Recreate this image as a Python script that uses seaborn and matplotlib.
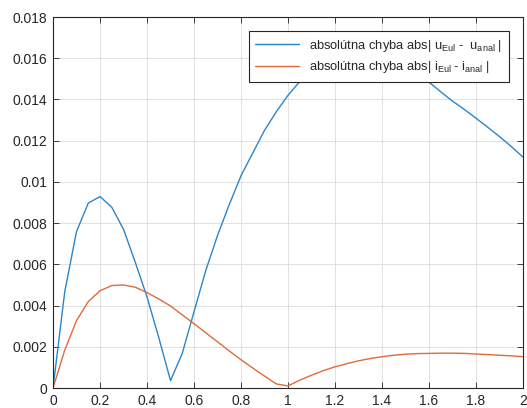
import numpy as np
import pandas as pd
import matplotlib
matplotlib.use("Agg")
import matplotlib.pyplot as plt
from matplotlib.ticker import FuncFormatter, MultipleLocator
import seaborn as sns

# time grid (Euler step 0.05)
t = [round(0.05 * k, 2) for k in range(41)]

# absolute error of the capacitor voltage |u_Eul - u_anal|
u_err = [0.0, 0.00468, 0.00759, 0.00897, 0.00929, 0.00877, 0.00770, 0.00610,
         0.00442, 0.00245, 0.00036, 0.00168, 0.00370, 0.00570, 0.00740,
         0.00890, 0.01030, 0.01140, 0.01250, 0.01340, 0.01420, 0.01487,
         0.01540, 0.01580, 0.01610, 0.01630, 0.01640, 0.01640, 0.01630,
         0.01600, 0.01570, 0.01530, 0.01484, 0.01437, 0.01392, 0.01352,
         0.01309, 0.01265, 0.01220, 0.01172, 0.01120]

# absolute error of the current |i_Eul - i_anal|
i_err = [0.0, 0.00184, 0.00327, 0.00419, 0.00472, 0.00497, 0.00500, 0.00489,
         0.00463, 0.00432, 0.00398, 0.00355, 0.00312, 0.00268, 0.00224,
         0.00180, 0.00137, 0.00097, 0.00058, 0.00020, 0.00010, 0.00038,
         0.00062, 0.00084, 0.00103, 0.00118, 0.00132, 0.00143, 0.00152,
         0.00159, 0.00164, 0.00167, 0.00168, 0.00169, 0.00169, 0.00168,
         0.00165, 0.00162, 0.00159, 0.00156, 0.00152]

labels = ["absolútna chyba abs| u$_{Eul}$ -  u$_{anal}$ |",
          "absolútna chyba abs| i$_{Eul}$ - i$_{anal}$ |"]
colors = ["#2a86cc", "#e06a3a"]

sns.set_style("white")
plt.rcParams["font.family"] = ["Liberation Sans", "DejaVu Sans"]
plt.rcParams["mathtext.default"] = "regular"

df = pd.concat([
    pd.DataFrame({"t": t, "err": u_err, "series": labels[0]}),
    pd.DataFrame({"t": t, "err": i_err, "series": labels[1]}),
])

fig = plt.figure(figsize=(5.27, 4.08), dpi=100)
ax = fig.add_axes([0.1006, 0.049, 0.8918, 0.9093])

sns.lineplot(data=df, x="t", y="err", hue="series", palette=colors,
             linewidth=1.0, ax=ax, sort=False, estimator=None)

ax.set_xlim(0, 2)
ax.set_ylim(0, 0.018)
ax.xaxis.set_major_locator(MultipleLocator(0.2))
ax.yaxis.set_major_locator(MultipleLocator(0.002))
ax.xaxis.set_major_formatter(FuncFormatter(
    lambda v, p: f"{v:.1f}".rstrip("0").rstrip(".") if abs(v) > 1e-12 else "0"))
ax.yaxis.set_major_formatter(FuncFormatter(
    lambda v, p: f"{v:.3f}".rstrip("0").rstrip(".") if abs(v) > 1e-12 else "0"))
ax.set_xlabel("")
ax.set_ylabel("")

ax.grid(True, color="#dcdcdc", linewidth=0.6)
ax.set_axisbelow(True)
for s in ax.spines.values():
    s.set_color("#262626")
    s.set_linewidth(0.8)
ax.tick_params(direction="in", length=4, width=0.6, colors="#262626",
               labelsize=10, labelcolor="#262626", top=True, right=True,
               bottom=True, left=True, pad=4)

leg = ax.legend(loc="upper right", fontsize=9.3, frameon=True, fancybox=False,
                handlelength=3.4, borderpad=0.5, labelspacing=0.45,
                borderaxespad=0.0, bbox_to_anchor=(0.970, 0.962))
leg.get_frame().set_edgecolor("#262626")
leg.get_frame().set_linewidth(0.8)
leg.get_frame().set_alpha(1.0)

fig.savefig("out.png", dpi=100)
